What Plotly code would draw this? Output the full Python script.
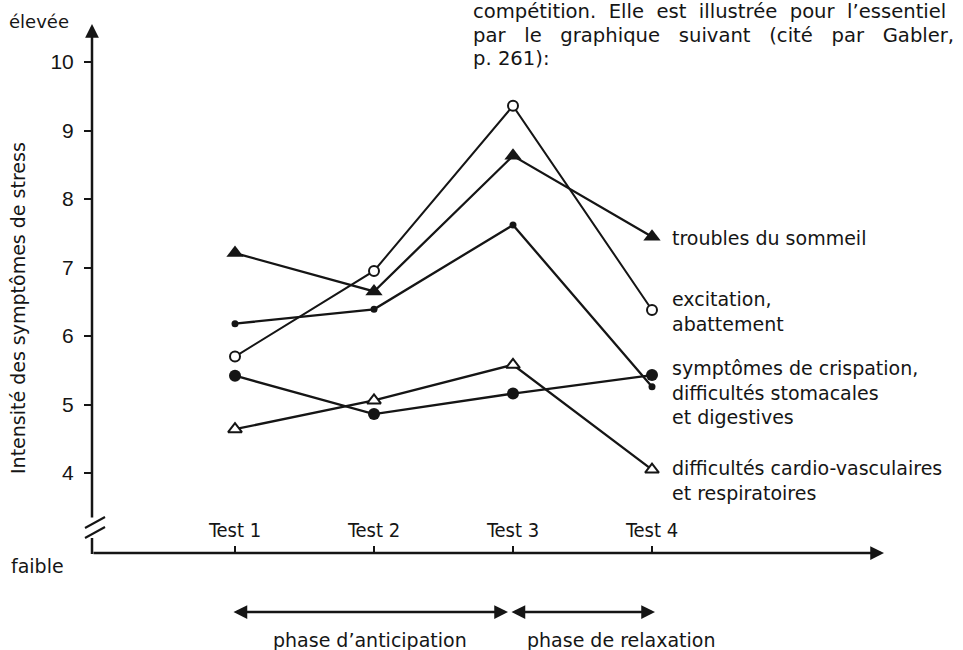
import plotly.graph_objects as go

# ---------------- data ----------------
tests = ["Test 1", "Test 2", "Test 3", "Test 4"]
test_pos = [1, 2, 3, 4]
y_ticks = [4, 5, 6, 7, 8, 9, 10]

sommeil = [7.21, 6.65, 8.63, 7.45]            # filled triangles
excitation = [5.70, 6.95, 9.36, 6.38]         # open circles
crispation_petit = [6.18, 6.39, 7.62, 5.26]   # small dots
crispation_gros = [5.42, 4.86, 5.16, 5.43]    # large dots
cardio = [4.64, 5.06, 5.58, 4.05]             # open triangles

labels = [
    ("troubles du sommeil", 238),
    ("excitation,<br>abattement", 311),
    ("symptômes de crispation,<br>difficultés stomacales<br>et digestives", 392),
    ("difficultés cardio-vasculaires<br>et respiratoires", 480),
]

# ---------------- layout geometry ----------------
W, H = 963, 650
PL, PR, PT, PB = 92, 880, 38, 553          # plot area in page pixels
L, R, T, B = PL, W - PR, PT, H - PB
PW, PH = PR - PL, PB - PT
INK = "#151515"
FONT = "DejaVu Sans, Noto Sans, sans-serif"
NARROW = "Liberation Sans Narrow, DejaVu Sans Condensed, sans-serif"


def px(x):
    return (x - PL) / PW


def py(y):
    return (PB - y) / PH


X_UNIT = 139.0
X0 = 235.0
Y_UNIT = 68.5
Y10 = 62.0
x_range = [1 + (PL - X0) / X_UNIT, 1 + (PR - X0) / X_UNIT]
y_range = [10 - (PB - Y10) / Y_UNIT, 10 + (Y10 - PT) / Y_UNIT]

fig = go.Figure()


def add_series(vals, symbol, size, filled=True, lw=2.3):
    fig.add_trace(go.Scatter(
        x=test_pos, y=vals, mode="lines+markers", cliponaxis=False,
        line=dict(color=INK, width=lw),
        marker=dict(symbol=symbol, size=size,
                    color=INK if filled else "white",
                    line=dict(color=INK, width=2 if not filled else 0)),
        showlegend=False, hoverinfo="skip"))


add_series(cardio, "triangle-up", 12, filled=False)
add_series(crispation_gros, "circle", 12)
add_series(crispation_petit, "circle", 7)
add_series(excitation, "circle", 10, filled=False, lw=2.0)
add_series(sommeil, "triangle-up", 15)

ann = []
# series labels
for text, yc in labels:
    ann.append(dict(x=px(670), y=py(yc), xref="paper", yref="paper", text=text,
                    showarrow=False, xanchor="left", yanchor="middle", align="left",
                    font=dict(family=FONT, size=19, color=INK)))

# y-axis title and end labels
ann.append(dict(x=px(18), y=py(308), xref="paper", yref="paper",
                text="Intensité des symptômes de stress", textangle=-90,
                showarrow=False, xanchor="center", yanchor="middle",
                font=dict(family=FONT, size=19, color=INK)))
ann.append(dict(x=px(7), y=py(22), xref="paper", yref="paper", text="élevée",
                showarrow=False, xanchor="left", yanchor="middle",
                font=dict(family=FONT, size=18, color=INK)))
ann.append(dict(x=px(9), y=py(566), xref="paper", yref="paper", text="faible",
                showarrow=False, xanchor="left", yanchor="middle",
                font=dict(family=FONT, size=19, color=INK)))

# axis arrows
ann.append(dict(x=px(92), y=py(24), xref="paper", yref="paper", ax=0, ay=519 - 24,
                text="", showarrow=True, arrowhead=2, arrowsize=1.1, arrowwidth=2.5,
                arrowcolor=INK))
ann.append(dict(x=px(884), y=py(553), xref="paper", yref="paper", ax=-(884 - 92), ay=0,
                text="", showarrow=True, arrowhead=2, arrowsize=1.1, arrowwidth=2.5,
                arrowcolor=INK))

# phase arrows
ann.append(dict(x=px(508), y=py(612), xref="paper", yref="paper", ax=-(508 - 232), ay=0,
                text="", showarrow=True, arrowhead=2, startarrowhead=2, arrowside="end+start",
                arrowsize=1.1, startarrowsize=1.1, arrowwidth=2.5, arrowcolor=INK))
ann.append(dict(x=px(655), y=py(612), xref="paper", yref="paper", ax=-(655 - 510), ay=0,
                text="", showarrow=True, arrowhead=2, startarrowhead=2, arrowside="end+start",
                arrowsize=1.1, startarrowsize=1.1, arrowwidth=2.5, arrowcolor=INK))
ann.append(dict(x=px(370), y=py(640), xref="paper", yref="paper", text="phase d’anticipation",
                showarrow=False, yanchor="middle", font=dict(family=FONT, size=19, color=INK)))
ann.append(dict(x=px(525), y=py(640), xref="paper", yref="paper", text="phase de relaxation",
                showarrow=False, xanchor="left", yanchor="middle",
                font=dict(family=FONT, size=19, color=INK)))

# paragraph text (top right)
NB = "\u00a0"
para = [
    ("compétition. Elle est illustrée pour l’essentiel".replace(" ", " " + NB), 12),
    ("par le graphique suivant (cité par Gabler,".replace(" ", " " + NB + NB), 35.5),
    ("p. 261):", 59),
]
for text, yc in para:
    ann.append(dict(x=px(471), y=py(yc), xref="paper", yref="paper", text=text,
                    showarrow=False, xanchor="left", yanchor="middle",
                    font=dict(family=FONT, size=19.6, color=INK)))

shapes = [
    dict(type="line", xref="paper", yref="paper", x0=px(92), y0=py(554), x1=px(92), y1=py(538),
         line=dict(color=INK, width=2.5)),
    dict(type="line", xref="paper", yref="paper", x0=px(85), y0=py(528), x1=px(105), y1=py(517),
         line=dict(color=INK, width=2)),
    dict(type="line", xref="paper", yref="paper", x0=px(85), y0=py(538), x1=px(105), y1=py(527),
         line=dict(color=INK, width=2)),
]

fig.update_layout(
    width=W, height=H, margin=dict(l=L, r=R, t=T, b=B),
    paper_bgcolor="white", plot_bgcolor="white",
    annotations=ann, shapes=shapes, showlegend=False,
    xaxis=dict(range=x_range, showgrid=False, zeroline=False, showline=False,
               tickmode="array", tickvals=test_pos, ticktext=tests,
               ticks="inside", ticklen=7, tickwidth=2, tickcolor=INK,
               ticklabelposition="inside", ticklabelstandoff=6,
               tickfont=dict(family=NARROW, size=20, color=INK), fixedrange=True),
    yaxis=dict(range=y_range, showgrid=False, zeroline=False, showline=False,
               tickmode="array", tickvals=y_ticks,
               ticks="outside", ticklen=7, tickwidth=2, tickcolor=INK,
               ticklabelstandoff=6,
               tickfont=dict(family="Liberation Sans, Arial, sans-serif", size=21, color=INK),
               fixedrange=True),
)

# remove the default page margin so the 963x650 figure fills the window exactly
fig.write_html("out.html",
               config={"displayModeBar": False},
               post_script="document.body.style.margin='0';document.body.style.overflow='hidden';")
